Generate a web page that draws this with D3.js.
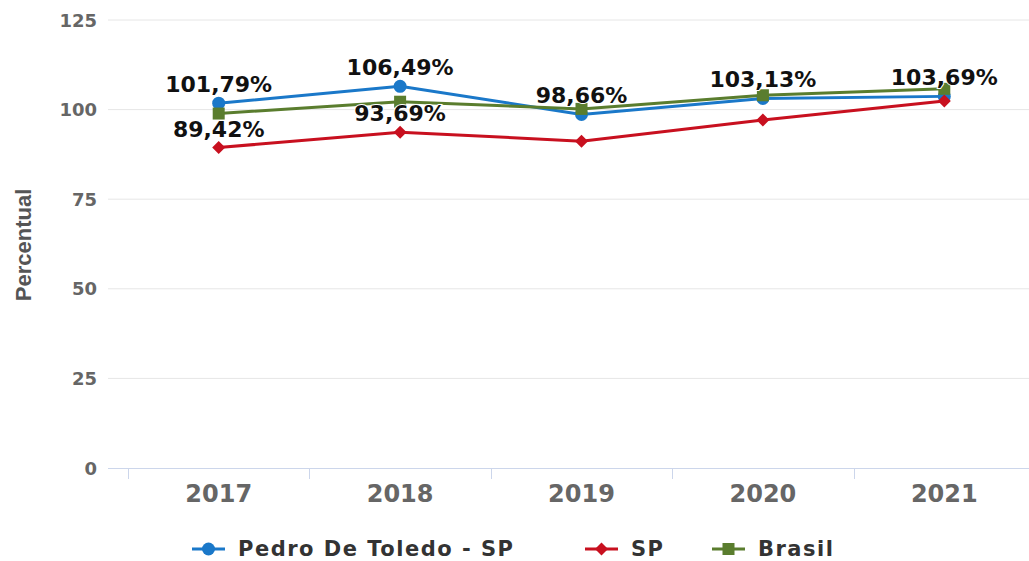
<!DOCTYPE html>
<html>
<head>
<meta charset="utf-8">
<script src="https://cdn.jsdelivr.net/npm/d3@7"></script>
<style>
  html, body { margin: 0; padding: 0; background: #fff; }
  svg { display: block; }
  text { font-family: "DejaVu Sans", sans-serif; }
</style>
</head>
<body>
<svg id="chart" width="1029" height="561"></svg>
<script>
const years = ["2017", "2018", "2019", "2020", "2021"];
const pedroValues = [101.79, 106.49, 98.66, 103.13, 103.69];
const spValues = [89.42, 93.69, 91.2, 97.1, 102.4];
const brasilValues = [98.9, 102.2, 100.2, 104.0, 105.8];
const pedroLabels = ["101,79%", "106,49%", "98,66%", "103,13%", "103,69%"];
const spLabels = ["89,42%", "93,69%", null, null, null];
const yTicks = [0, 25, 50, 75, 100, 125];
const seriesNames = ["Pedro De Toledo - SP", "SP", "Brasil"];
const seriesColors = ["#1a78c9", "#c8101f", "#5a7d2e"];

const svg = d3.select("#chart");
const plotLeft = 108, plotRight = 1029;
const y = d3.scaleLinear().domain([0, 125]).range([468, 20]);
const x = d3.scaleBand().domain(years).range([128, 1035]).padding(0);

// grid lines
svg.append("g").selectAll("line").data(yTicks.filter(d => d > 0)).join("line")
  .attr("x1", plotLeft).attr("x2", plotRight)
  .attr("y1", d => y(d)).attr("y2", d => y(d))
  .attr("stroke", "#e6e6e6").attr("stroke-width", 1);

// y labels
svg.append("g").selectAll("text").data(yTicks).join("text")
  .attr("x", 97).attr("y", d => y(d) + 6.5)
  .attr("text-anchor", "end")
  .attr("font-size", 18).attr("font-weight", "bold")
  .attr("fill", "#666")
  .text(d => d);

// x axis line
svg.append("line").attr("x1", plotLeft).attr("x2", plotRight)
  .attr("y1", 468.5).attr("y2", 468.5)
  .attr("stroke", "#ccd6eb").attr("stroke-width", 1);
// x ticks at band boundaries
svg.append("g").selectAll("line").data(years).join("line")
  .attr("x1", d => Math.round(x(d)) + 0.5).attr("x2", d => Math.round(x(d)) + 0.5)
  .attr("y1", 468).attr("y2", 479)
  .attr("stroke", "#ccd6eb").attr("stroke-width", 1);
// x labels
svg.append("g").selectAll("text").data(years).join("text")
  .attr("x", d => x(d) + x.bandwidth() / 2).attr("y", 502)
  .attr("text-anchor", "middle")
  .attr("font-size", 24).attr("font-weight", "bold")
  .attr("fill", "#666")
  .text(d => d);

// y title
svg.append("text")
  .attr("transform", "translate(31,245) rotate(-90)")
  .attr("text-anchor", "middle")
  .attr("font-size", 22).attr("font-weight", "bold")
  .attr("fill", "#555")
  .style("font-family", "'Liberation Sans', Arial, sans-serif")
  .text("Percentual");

const cx = d => x(d) + x.bandwidth() / 2;
const allSeries = [pedroValues, spValues, brasilValues];
const line = d3.line().x((d, i) => cx(years[i])).y(d => y(d));

function marker(g, k, px, py) {
  const c = seriesColors[k];
  if (k === 0) g.append("circle").attr("cx", px).attr("cy", py).attr("r", 6.5).attr("fill", c);
  else if (k === 1) g.append("path").attr("d", `M${px},${py - 6.5}L${px + 6.5},${py}L${px},${py + 6.5}L${px - 6.5},${py}Z`).attr("fill", c);
  else g.append("rect").attr("x", px - 6).attr("y", py - 6).attr("width", 12).attr("height", 12).attr("fill", c);
}

allSeries.forEach((vals, k) => {
  const g = svg.append("g");
  g.append("path").datum(vals).attr("d", line)
    .attr("fill", "none").attr("stroke", seriesColors[k]).attr("stroke-width", 3)
    .attr("stroke-linejoin", "round");
  vals.forEach((v, i) => marker(g, k, cx(years[i]), y(v)));
});

// data labels
function addLabels(vals, labels) {
  svg.append("g").selectAll("text").data(vals.map((v, i) => ({v, i, t: labels[i]})).filter(d => d.t))
    .join("text")
    .attr("x", d => cx(years[d.i])).attr("y", d => y(d.v) - 11)
    .attr("text-anchor", "middle")
    .attr("font-size", 22).attr("font-weight", "bold")
    .attr("fill", "#111")
    .attr("stroke", "#fff").attr("stroke-width", 2).attr("paint-order", "stroke")
    .text(d => d.t);
}
addLabels(pedroValues, pedroLabels);
addLabels(spValues, spLabels);

// legend
const legend = svg.append("g");
const legendX = [192, 585, 712];
seriesNames.forEach((name, k) => {
  const lx = legendX[k], ly = 549;
  legend.append("line").attr("x1", lx).attr("x2", lx + 33).attr("y1", ly).attr("y2", ly)
    .attr("stroke", seriesColors[k]).attr("stroke-width", 3);
  marker(legend, k, lx + 16.5, ly);
  legend.append("text").attr("x", lx + 46).attr("y", ly + 7)
    .attr("font-size", 21).attr("font-weight", "bold").attr("fill", "#333")
    .attr("letter-spacing", 1.5)
    .text(name);
});
</script>
</body>
</html>
